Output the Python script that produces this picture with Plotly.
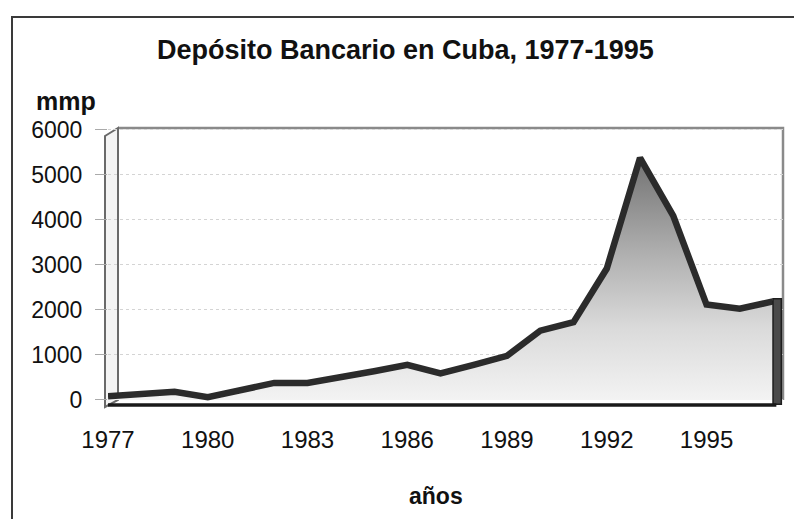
import plotly.graph_objects as go

# ---- data ----
years = list(range(1977, 1998))
deposits = [80, 130, 180, 60, 230, 380, 380, 500, 640, 780, 590,
            780, 980, 1540, 1730, 2920, 5380, 4090, 2120, 2030, 2190]
tick_years = [1977, 1980, 1983, 1986, 1989, 1992, 1995]
y_ticks = [0, 1000, 2000, 3000, 4000, 5000, 6000]

title_text = "Depósito Bancario en Cuba, 1977-1995"
y_title = "mmp"
x_title = "años"

# ---- layout geometry (pixels) ----
W, H = 794, 519
L, R, T, B = 108, 11, 128, 112
PW, PH = W - L - R, H - T - B
X_RANGE = [1977, 1997.3]
Y_RANGE = [-156, 6044]


def px(x):
    return (x - L) / PW


def py(y):
    return (H - B - y) / PH


FONT = "Liberation Sans, Arial, sans-serif"

fig = go.Figure()

fig.add_trace(go.Scatter(
    x=years, y=deposits, mode="lines",
    line=dict(color="#2b2b2b", width=6.5, shape="linear"),
    fill="tozeroy",
    fillgradient=dict(type="vertical",
                      colorscale=[[0, "#f3f3f3"], [0.3, "#dadada"],
                                  [0.6, "#b0b0b0"], [1, "#727272"]],
                      start=0, stop=max(deposits)),
    hoverinfo="x+y", showlegend=False,
))

shapes = []
# outer frame (top & left edges visible)
shapes.append(dict(type="rect", xref="paper", yref="paper",
                   x0=px(12), x1=px(W + 20), y0=py(H + 20), y1=py(17),
                   line=dict(color="#3a3a3a", width=2), fillcolor="rgba(0,0,0,0)",
                   layer="below"))
# back wall border (top and right)
shapes.append(dict(type="path", xref="paper", yref="paper",
                   path=f"M {px(118)} {py(128)} L {px(783)} {py(128)} L {px(783)} {py(400)}",
                   line=dict(color="#8a8a8a", width=2.5), layer="below"))
# left side wall
shapes.append(dict(type="path", xref="paper", yref="paper",
                   path=(f"M {px(105)} {py(136)} L {px(118)} {py(128)} "
                         f"L {px(118)} {py(400)} L {px(105)} {py(407)} Z"),
                   line=dict(color="#6a6a6a", width=2), fillcolor="#f4f4f4",
                   layer="below"))
# right end face of the area
shapes.append(dict(type="rect", xref="x", yref="y",
                   x0=years[-1], x1=years[-1] + 0.25, y0=Y_RANGE[0] + 60, y1=deposits[-1] + 60,
                   line=dict(color="#1e1e1e", width=1.5), fillcolor="#4a4a4a",
                   layer="above"))
# floor front edge
shapes.append(dict(type="line", xref="x", yref="paper",
                   x0=years[0] - 0.05, x1=years[-1] + 0.1, y0=py(405), y1=py(405),
                   line=dict(color="#1a1a1a", width=3.5), layer="above"))

fig.update_layout(
    width=W, height=H,
    margin=dict(l=L, r=R, t=T, b=B),
    paper_bgcolor="white", plot_bgcolor="rgba(0,0,0,0)",
    shapes=shapes,
    xaxis=dict(range=X_RANGE, tickmode="array", tickvals=tick_years,
               ticktext=[str(t) for t in tick_years],
               showgrid=False, zeroline=False, showline=False, ticks="",
               tickfont=dict(family=FONT, size=24, color="#111"),
               ticklabelstandoff=16, fixedrange=True),
    yaxis=dict(range=Y_RANGE, tickmode="array", tickvals=y_ticks,
               ticktext=[str(t) for t in y_ticks],
               showgrid=True, gridcolor="#d4d4d4", griddash="dot", gridwidth=1,
               zeroline=False, showline=False,
               ticks="outside", ticklen=12, tickcolor="#aaaaaa", tickwidth=1,
               tickfont=dict(family=FONT, size=23, color="#111"),
               ticklabelstandoff=8, fixedrange=True),
    annotations=[
        dict(text=f"<b>{title_text}</b>", xref="paper", yref="paper",
             x=px(405), y=py(50), xanchor="center", yanchor="middle",
             showarrow=False, font=dict(family=FONT, size=27, color="#111")),
        dict(text=f"<b>{y_title}</b>", xref="paper", yref="paper",
             x=px(34), y=py(101), xanchor="left", yanchor="middle",
             showarrow=False, font=dict(family=FONT, size=25, color="#111")),
        dict(text=f"<b>{x_title}</b>", xref="paper", yref="paper",
             x=px(436), y=py(496), xanchor="center", yanchor="middle",
             showarrow=False, font=dict(family=FONT, size=23, color="#111")),
    ],
)

fig.write_html("out.html")
